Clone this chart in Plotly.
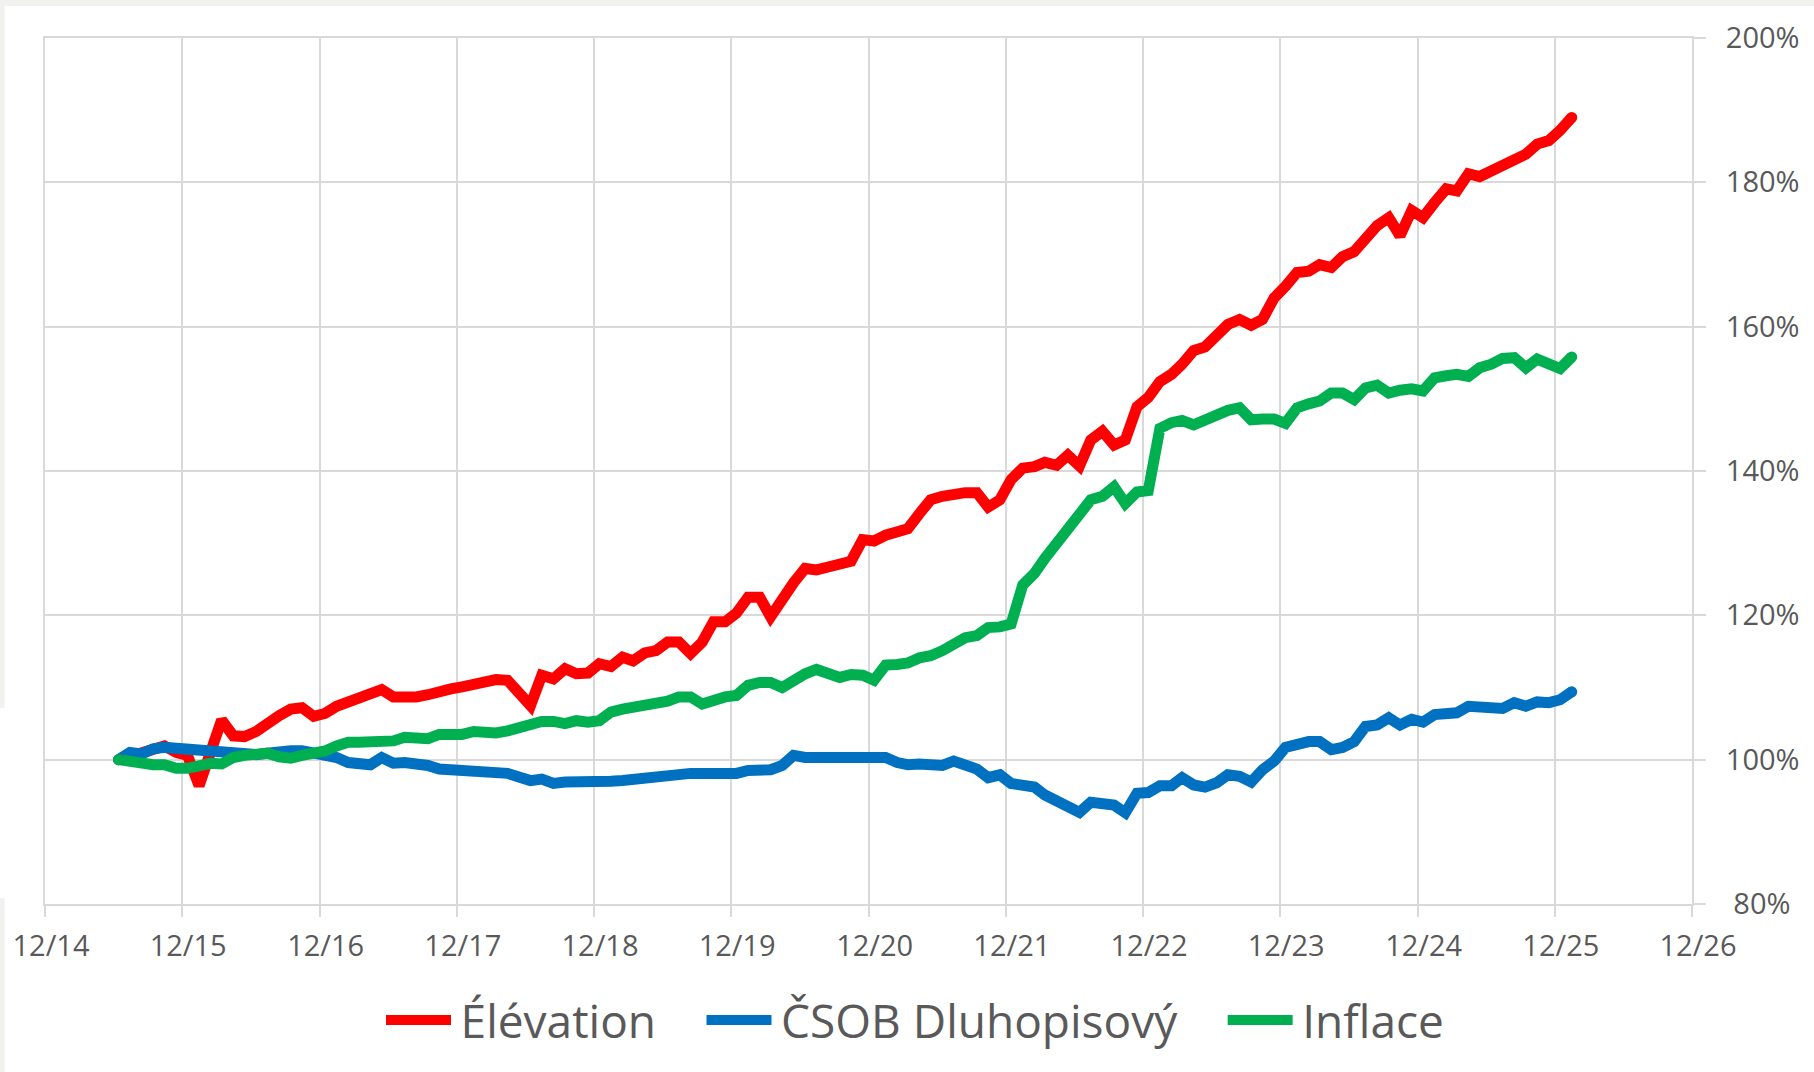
import pandas as pd
import plotly.graph_objects as go

# ---------------- data ----------------
months = pd.date_range("2015-06-15", periods=128, freq=pd.DateOffset(months=1))

elevation = [
    100.0, 100.5, 101.0, 101.6, 101.9, 101.0, 100.6, 96.4, 100.8, 105.5,
    103.3, 103.2, 103.9, 105.2, 106.1, 107.0, 107.2, 106.0, 106.4, 107.4,
    108.0, 108.3, 108.8, 109.7, 108.7, 108.6, 108.7, 109.0, 109.5, 109.8,
    110.1, 110.5, 110.7, 111.1, 111.0, 109.4, 107.5, 111.7, 111.2, 112.6,
    111.9, 112.0, 113.3, 112.9, 114.2, 113.7, 114.8, 115.1, 116.3, 116.3,
    114.7, 116.3, 119.1, 119.1, 120.3, 122.5, 122.5, 119.8, 122.5, 124.5,
    126.5, 126.3, 126.7, 127.1, 127.5, 130.5, 130.3, 131.1, 131.4, 132.0,
    134.1, 136.0, 136.5, 136.9, 137.0, 137.0, 135.0, 136.0, 138.8, 140.4,
    140.6, 141.2, 140.8, 142.2, 140.7, 144.3, 145.5, 143.6, 144.3, 148.9,
    150.2, 152.4, 153.4, 154.8, 156.7, 157.2, 158.7, 160.3, 161.0, 160.2,
    161.0, 164.0, 165.6, 167.5, 167.7, 168.6, 168.2, 169.7, 170.4, 172.1,
    174.0, 175.1, 172.6, 176.1, 175.1, 177.2, 179.1, 178.8, 181.2, 180.8,
    181.6, 182.4, 183.2, 183.9, 185.3, 185.8, 187.2, 189.0,
]

csob = [
    100.0, 101.0, 100.8, 101.5, 101.7, 101.6, 101.5, 101.2, 101.2, 101.0,
    100.8, 100.7, 100.7, 100.9, 101.2, 101.25, 101.25, 101.0, 100.7, 100.3,
    99.6, 99.4, 99.3, 100.3, 99.5, 99.6, 99.5, 99.2, 98.7, 98.6,
    98.5, 98.2, 98.2, 98.1, 98.1, 97.6, 97.1, 97.3, 96.7, 96.9,
    96.9, 96.7, 96.7, 97.0, 97.1, 97.3, 97.3, 97.5, 97.8, 98.1,
    98.1, 98.1, 98.1, 98.1, 98.1, 98.5, 98.6, 98.6, 99.2, 100.6,
    100.3, 100.3, 100.3, 100.6, 100.6, 100.6, 100.5, 100.3, 99.6, 99.3,
    99.4, 99.3, 99.2, 99.8, 99.4, 98.7, 97.5, 97.9, 96.7, 96.4,
    96.2, 95.1, 94.3, 93.75, 92.7, 94.1, 94.0, 93.7, 92.65, 95.35,
    95.45, 96.4, 96.4, 97.5, 96.5, 96.2, 96.8, 97.9, 97.7, 96.9,
    98.6, 99.8, 101.7, 102.2, 102.5, 102.5, 101.4, 101.7, 102.5, 104.6,
    104.8, 105.8, 104.8, 105.6, 105.2, 106.25, 106.5, 106.5, 107.4, 107.4,
    107.3, 107.1, 107.9, 107.4, 108.0, 107.9, 108.3, 109.4,
]

inflace = [
    100.0, 99.7, 99.5, 99.3, 99.3, 98.8, 98.8, 99.3, 99.5, 99.4,
    100.3, 100.6, 100.6, 100.9, 100.4, 100.2, 100.6, 100.9, 101.2, 101.9,
    102.4, 102.4, 102.5, 102.6, 102.6, 103.1, 103.1, 102.9, 103.5, 103.5,
    103.5, 103.9, 103.8, 103.7, 104.0, 104.5, 105.0, 105.3, 105.3, 105.0,
    105.4, 105.2, 105.4, 106.6, 107.0, 107.3, 107.3, 108.0, 108.1, 108.7,
    108.7, 107.7, 108.3, 108.7, 108.9, 110.3, 110.7, 110.7, 110.0, 111.0,
    111.9, 112.5, 112.1, 111.4, 111.8, 111.7, 111.0, 113.1, 113.2, 113.4,
    114.1, 114.4, 115.1, 116.1, 116.9, 117.2, 118.3, 118.4, 118.8, 124.2,
    125.8, 127.9, 130.0, 132.0, 134.1, 136.0, 136.5, 137.8, 135.5, 137.1,
    137.3, 145.9, 146.7, 147.0, 146.4, 147.1, 147.8, 148.4, 148.75, 147.1,
    147.2, 147.2, 146.6, 148.75, 149.3, 149.7, 150.8, 150.8, 149.9, 151.5,
    151.9, 150.8, 151.2, 151.4, 151.1, 152.9, 153.2, 153.4, 153.1, 154.3,
    154.8, 155.6, 155.7, 154.3, 155.5, 154.9, 154.2, 155.8,
]

series_names = ["Élévation", "ČSOB Dluhopisový", "Inflace"]
series_colors = ["#FF0000", "#0070C0", "#00B050"]

x_tick_years = list(range(2014, 2027))
x_tick_labels = [f"12/{y % 100:02d}" for y in x_tick_years]
y_tick_values = [80, 100, 120, 140, 160, 180, 200]
y_tick_labels = ["\u00a080%", "100%", "120%", "140%", "160%", "180%", "200%"]

# ---------------- layout geometry ----------------
W, H = 1814, 1072
PL, PR, PT, PB = 45, 1692, 38, 904   # plot area in pixels
GRID = "#d9d9d9"
TXT = "#595959"
FONT = "Open Sans"
LW = 11

HAIR = "\u200a"
NB = "\u00a0"


def px_x(p):
    return (p - PL) / (PR - PL)


def px_y(p):
    return (PB - p) / (PB - PT)


fig = go.Figure()
all_vals = [elevation, csob, inflace]
for i, (name, vals, col) in enumerate(zip(series_names, all_vals, series_colors)):
    label = HAIR + name + ("" if i == len(series_names) - 1 else NB * 3 + HAIR)
    fig.add_trace(go.Scatter(
        x=months, y=vals, name=label, mode="lines",
        line=dict(color=col, width=LW),
    ))
# round line caps at the ends of each series
for vals, col in zip(all_vals, series_colors):
    fig.add_trace(go.Scatter(
        x=[months[0], months[-1]], y=[vals[0], vals[-1]], mode="markers",
        marker=dict(color=col, size=LW, line=dict(width=0)),
        showlegend=False, hoverinfo="skip",
    ))

grid_dates = [f"{y}-12-01" for y in x_tick_years]

fig.update_layout(
    width=W, height=H,
    margin=dict(l=PL, r=W - PR, t=PT, b=H - PB, pad=0),
    paper_bgcolor="white", plot_bgcolor="white",
    font=dict(family=FONT, color=TXT, size=29),
    showlegend=True,
    legend=dict(
        orientation="h", x=px_x(381), xanchor="left",
        y=px_y(1020), yanchor="middle",
        font=dict(size=46, color=TXT, family=FONT),
        itemwidth=65, bgcolor="rgba(0,0,0,0)",
        traceorder="normal",
    ),
    xaxis=dict(
        type="date", range=["2014-12-01", "2026-12-01"],
        tickmode="array", tickvals=grid_dates, ticktext=x_tick_labels,
        ticks="outside", ticklen=11, tickwidth=2, tickcolor=GRID,
        showgrid=True, gridcolor=GRID, gridwidth=2,
        zeroline=False, showline=True, linecolor=GRID, linewidth=2, mirror=True,
        ticklabelshift=6, ticklabelstandoff=4,
        tickfont=dict(size=29, color=TXT, family=FONT),
        fixedrange=True,
    ),
    yaxis=dict(
        side="right", range=[80, 200],
        tickmode="array", tickvals=y_tick_values, ticktext=y_tick_labels,
        ticks="outside", ticklen=12, tickwidth=2, tickcolor=GRID,
        showgrid=True, gridcolor=GRID, gridwidth=2,
        zeroline=False, showline=True, linecolor=GRID, linewidth=2, mirror=True,
        ticklabelstandoff=14,
        tickfont=dict(size=29, color=TXT, family=FONT),
        fixedrange=True,
    ),
)

# light grey screenshot border strips
STRIP = "#f1f1ef"
strips = [
    (0, 0, W, 6),
    (0, 0, 4.6, 708),
    (0, 898, 4.6, H),
]
for x0, y0, x1, y1 in strips:
    fig.add_shape(type="rect", xref="paper", yref="paper",
                  x0=px_x(x0), x1=px_x(x1), y0=px_y(y1), y1=px_y(y0),
                  fillcolor=STRIP, line=dict(width=0), layer="below")

fig.write_html("out.html", config={"displayModeBar": False},
               post_script="document.body.style.margin='0';document.body.style.overflow='hidden';")
